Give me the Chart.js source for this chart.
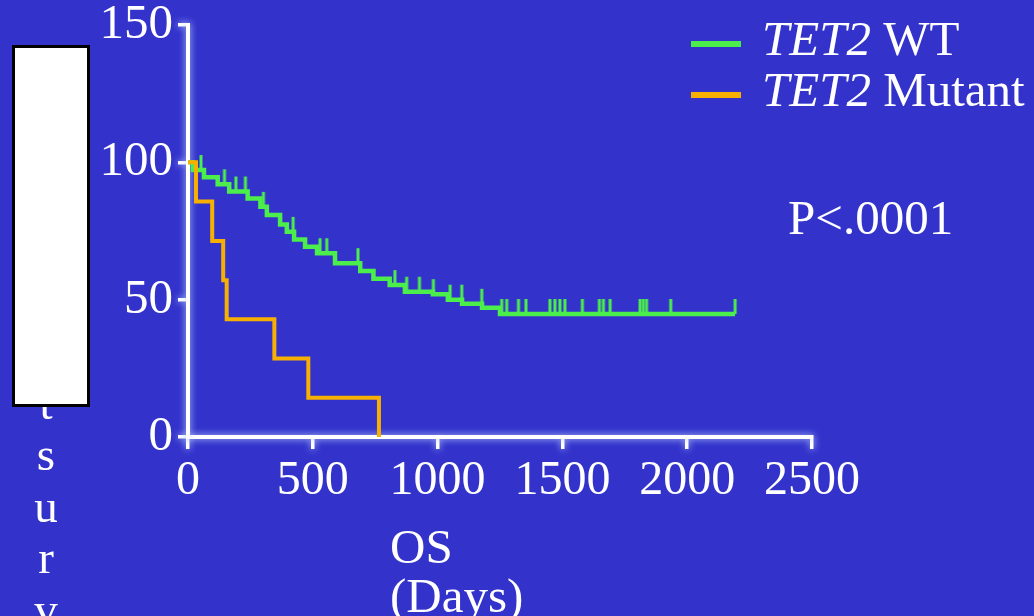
<!DOCTYPE html>
<html>
<head>
<meta charset="utf-8">
<title>TET2 overall survival</title>
<script src="https://cdn.jsdelivr.net/npm/chart.js@4.4.1/dist/chart.umd.min.js"></script>
<style>
  html, body { margin: 0; padding: 0; background: #3333CC; overflow: hidden; }
  #km { display: block; }
</style>
</head>
<body>
<canvas id="km" width="1034" height="616"></canvas>
<script>
// ---- data ---------------------------------------------------------------
const geneName = 'TET2';
const groupNames = ['WT', 'Mutant'];

// Kaplan-Meier steps, wild-type group (days, percent surviving)
const wtDays     = [0, 20, 64, 119, 165, 239, 290, 316, 369, 396, 425, 469, 517, 589, 690, 743, 808, 869, 981, 1041, 1098, 1178, 1250, 2192];
const wtSurvival = [100, 97.2, 94.6, 92.0, 89.4, 86.8, 83.8, 80.8, 77.4, 74.7, 71.9, 69.3, 66.9, 63.3, 60.4, 57.6, 55.3, 52.9, 52.0, 50.0, 48.5, 47.1, 44.8, 44.8];
// censored observations, wild-type group (days)
const wtCensorDays = [52, 146, 192, 230, 302, 421, 529, 556, 681, 829, 876, 927, 983, 1050, 1097, 1177, 1257, 1277, 1324, 1354, 1450, 1470, 1490, 1510, 1580, 1648, 1664, 1691, 1811, 1824, 1837, 1934, 2192];

// Kaplan-Meier steps, mutant group
const mutDays     = [0, 32, 97, 141, 155, 346, 482, 765];
const mutSurvival = [100, 85.7, 71.4, 57.1, 42.9, 28.6, 14.3, 0];

// axes
const xTicks = [0, 500, 1000, 1500, 2000, 2500];
const yTicks = [0, 50, 100, 150];
const xTitleLines = ['OS', '(Days)'];
const yTitleText = 'Percent survival';
const pValueText = 'P<.0001';

// ---- styling ------------------------------------------------------------
const BG = '#3333CC';
const GREEN = '#4CEE4C';
const ORANGE = '#F8B000';
const SERIF = '"Liberation Serif", "Times New Roman", serif';

function survivalAt(days, surv, t) {
  let s = surv[0];
  for (let i = 0; i < days.length; i++) if (days[i] <= t) s = surv[i];
  return s;
}

const toPoints = (xs, ys) => xs.map((x, i) => ({ x, y: ys[i] }));

// censor mark: short vertical stroke rising from the curve
const censorMark = document.createElement('canvas');
censorMark.width = 6;
censorMark.height = 32;
(function () {
  const c = censorMark.getContext('2d');
  c.strokeStyle = GREEN;
  c.lineWidth = 3;
  c.beginPath();
  c.moveTo(3, 1);
  c.lineTo(3, 16);
  c.stroke();
})();

const decorations = {
  id: 'decorations',
  beforeDraw(chart) {
    const ctx = chart.ctx;
    ctx.save();
    ctx.fillStyle = BG;
    ctx.fillRect(0, 0, chart.width, chart.height);
    ctx.restore();
    // soft halo around the axis lines and tick marks
    ctx.shadowColor = 'rgba(190,210,255,1)';
    ctx.shadowBlur = 7;
  },
  beforeDatasetsDraw(chart) {
    chart.ctx.shadowBlur = 0;
    chart.ctx.shadowColor = 'rgba(0,0,0,0)';
  },
  afterDraw(chart) {
    const ctx = chart.ctx;
    ctx.save();
    ctx.shadowBlur = 0;
    ctx.fillStyle = '#FFFFFF';
    ctx.textBaseline = 'alphabetic';

    // legend
    const legendItems = [
      { color: GREEN, group: groupNames[0], y: 55 },
      { color: ORANGE, group: groupNames[1], y: 106 }
    ];
    legendItems.forEach(item => {
      ctx.fillStyle = item.color;
      ctx.fillRect(691, item.y - 14, 50, 6);
      ctx.fillStyle = '#FFFFFF';
      ctx.textAlign = 'left';
      ctx.font = 'italic 49px ' + SERIF;
      ctx.fillText(geneName, 762, item.y);
      const w = ctx.measureText(geneName + ' ').width;
      ctx.font = '49px ' + SERIF;
      ctx.fillText(item.group, 762 + w, item.y);
    });

    // p-value
    ctx.font = '49px ' + SERIF;
    ctx.fillText(pValueText, 788, 234);

    // x axis title, left aligned
    xTitleLines.forEach((line, i) => ctx.fillText(line, 390, 563 + i * 49));

    // y axis title, one letter per line
    ctx.textAlign = 'center';
    ctx.font = '47px ' + SERIF;
    const letters = yTitleText.replace(/\s+/g, '').split('');
    letters.forEach((ch, i) => ctx.fillText(ch, 46, 109 + i * 51.6));

    // white panel over the upper part of the title
    ctx.fillStyle = '#FFFFFF';
    ctx.fillRect(13, 46, 76, 360);
    ctx.strokeStyle = '#000000';
    ctx.lineWidth = 3;
    ctx.strokeRect(13.5, 46.5, 75, 359);
    ctx.restore();
  }
};

const axisCommon = {
  border: { display: true, color: '#FFFFFF', width: 4 },
  title: { display: false }
};

new Chart(document.getElementById('km'), {
  type: 'line',
  data: {
    datasets: [
      {
        label: geneName + ' ' + groupNames[1],
        data: toPoints(mutDays, mutSurvival),
        borderColor: ORANGE,
        borderWidth: 4,
        stepped: true,
        pointRadius: 0,
        fill: false,
        order: 0
      },
      {
        label: geneName + ' ' + groupNames[0],
        data: toPoints(wtDays, wtSurvival),
        borderColor: GREEN,
        borderWidth: 4.5,
        stepped: true,
        pointRadius: 0,
        fill: false,
        order: 1
      },
      {
        label: geneName + ' ' + groupNames[0] + ' censored',
        data: wtCensorDays.map(d => ({ x: d, y: survivalAt(wtDays, wtSurvival, d) })),
        showLine: false,
        pointStyle: censorMark,
        pointRadius: 8,
        order: 1
      }
    ]
  },
  options: {
    responsive: false,
    devicePixelRatio: 1,
    animation: false,
    events: [],
    layout: { padding: { left: 0, right: 222, top: 25, bottom: 0 } },
    plugins: {
      legend: { display: false },
      tooltip: { enabled: false },
      title: { display: false }
    },
    scales: {
      x: {
        ...axisCommon,
        type: 'linear',
        min: xTicks[0],
        max: xTicks[xTicks.length - 1],
        afterFit(scale) { scale.height = 179; scale.paddingLeft = 0; scale.paddingRight = 0; },
        afterBuildTicks(scale) { scale.ticks = xTicks.map(v => ({ value: v })); },
        grid: { display: true, drawOnChartArea: false, drawTicks: true, tickLength: 12, color: '#FFFFFF', lineWidth: 3.5 },
        ticks: { color: '#FFFFFF', font: { family: SERIF, size: 48 }, padding: 4, maxRotation: 0, autoSkip: false, z: 1,
                 callback: v => String(v) }
      },
      y: {
        ...axisCommon,
        type: 'linear',
        min: yTicks[0],
        max: yTicks[yTicks.length - 1],
        afterFit(scale) { scale.width = 188; scale.paddingTop = 0; scale.paddingBottom = 0; },
        afterBuildTicks(scale) { scale.ticks = yTicks.map(v => ({ value: v })); },
        grid: { display: true, drawOnChartArea: false, drawTicks: true, tickLength: 10, color: '#FFFFFF', lineWidth: 3.5 },
        ticks: { color: '#FFFFFF', font: { family: SERIF, size: 49 }, padding: 5, autoSkip: false, z: 1,
                 callback: v => String(v) }
      }
    }
  },
  plugins: [decorations]
});
</script>
</body>
</html>
